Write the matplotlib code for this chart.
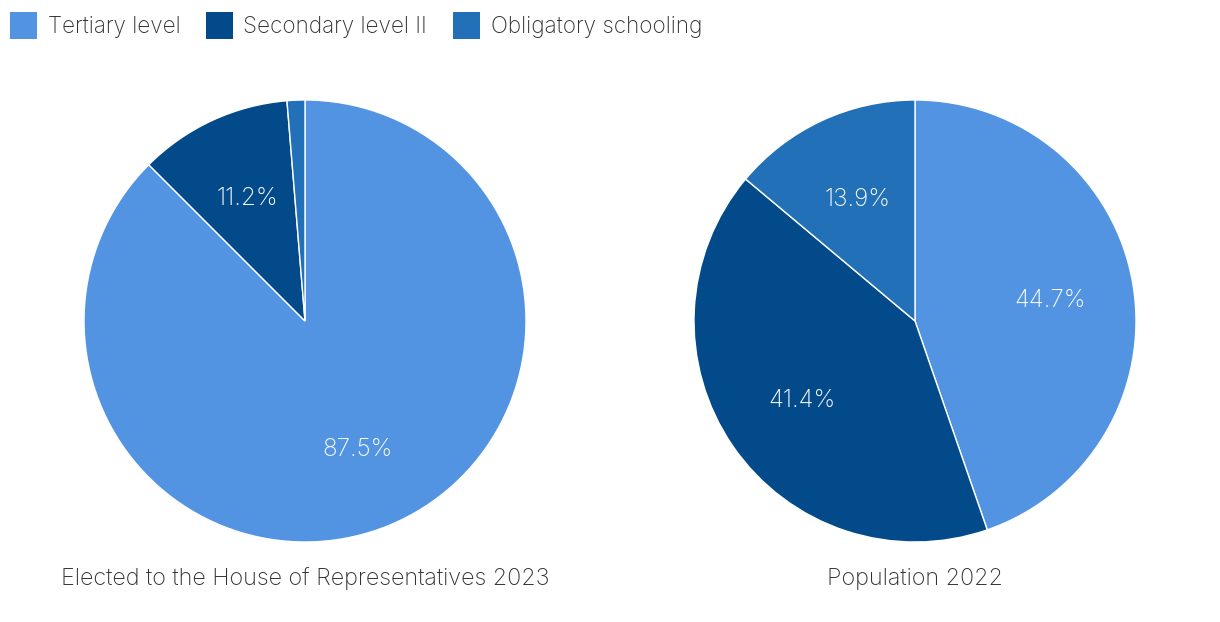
import numpy as np
import matplotlib.pyplot as plt
from matplotlib.patches import Rectangle

plt.rcParams['font.family'] = ['Inter', 'DejaVu Sans']

categories = ['Tertiary level', 'Secondary level II', 'Obligatory schooling']
colors = ['#5294E2', '#034A8B', '#2270B8']
elected_2023 = [87.5, 11.2, 1.3]
population_2022 = [44.7, 41.4, 13.9]
titles = ['Elected to the House of Representatives 2023', 'Population 2022']

W, H = 1220, 622
fig = plt.figure(figsize=(W / 100, H / 100), dpi=100)

def px(x, y):
    return x / W, 1 - y / H

R = 221
for cx, vals, title in zip([305, 915], [elected_2023, population_2022], titles):
    ax = fig.add_axes([(cx - R) / W, (H - 321 - R) / H, 2 * R / W, 2 * R / H])
    ax.pie(vals, colors=colors, startangle=90, counterclock=False, radius=1,
           wedgeprops=dict(edgecolor='white', linewidth=1))
    total = sum(vals)
    start = 90.0
    for v in vals:
        ang = start - v / total * 360 / 2
        start -= v / total * 360
        if v < 5:
            continue
        r = 0.62
        ax.text(r * np.cos(np.radians(ang)), r * np.sin(np.radians(ang)) - 0.01, f'{v:.1f}%',
                ha='center', va='center', color='white', fontsize=17.5, fontweight='light')
    ax.set_xlim(-1, 1)
    ax.set_ylim(-1, 1)
    ax.set_aspect('equal')
    ax.axis('off')
    fig.text(*px(cx, 579), title, ha='center', va='center', fontsize=16.8,
             color='#333333', fontweight='light')

# legend
for sx, tx, lab, col in zip([10, 206, 453], [48, 243, 491], categories, colors):
    x0, y0 = px(sx, 39)
    fig.patches.append(Rectangle((x0, y0), 27 / W, 27 / H, transform=fig.transFigure,
                                 facecolor=col, edgecolor='none'))
    fig.text(*px(tx, 27), lab, ha='left', va='center', fontsize=16.2,
             color='#333333', fontweight='light')

fig.savefig('out.png', dpi=100)
